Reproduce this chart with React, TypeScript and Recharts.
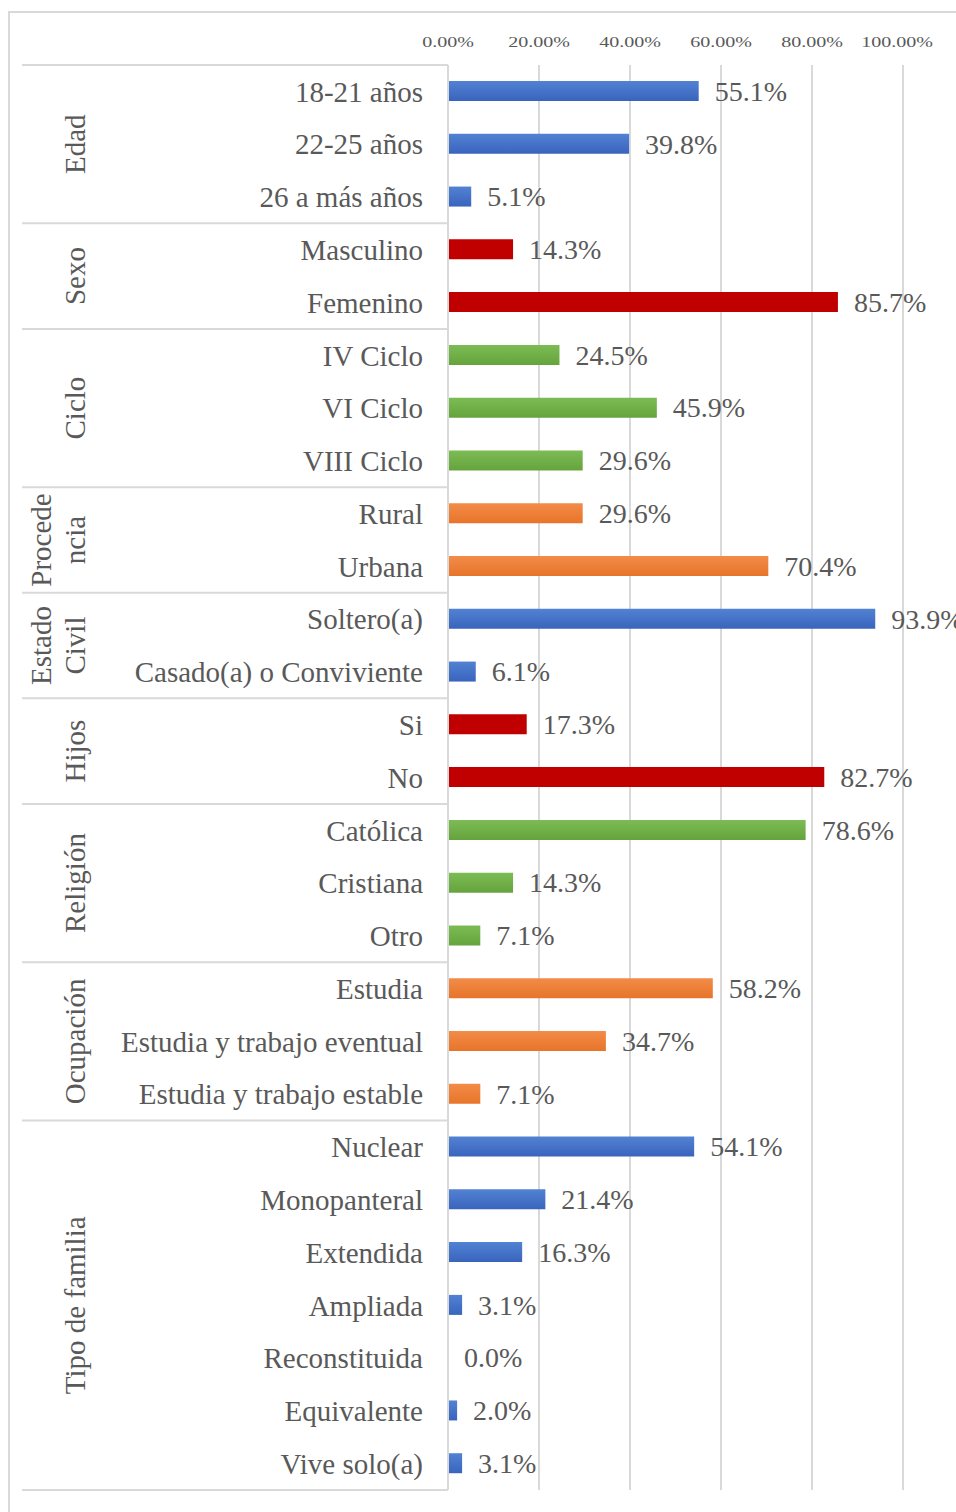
import { BarChart, Bar, XAxis, YAxis, CartesianGrid, Cell, LabelList, ReferenceArea } from "recharts"

const categories = [
  "18-21 años", "22-25 años", "26 a más años",
  "Masculino", "Femenino",
  "IV Ciclo", "VI Ciclo", "VIII Ciclo",
  "Rural", "Urbana",
  "Soltero(a)", "Casado(a) o Conviviente",
  "Si", "No",
  "Católica", "Cristiana", "Otro",
  "Estudia", "Estudia y trabajo eventual", "Estudia y trabajo estable",
  "Nuclear", "Monopanteral", "Extendida", "Ampliada", "Reconstituida", "Equivalente", "Vive solo(a)",
]

const values = [
  55.1, 39.8, 5.1,
  14.3, 85.7,
  24.5, 45.9, 29.6,
  29.6, 70.4,
  93.9, 6.1,
  17.3, 82.7,
  78.6, 14.3, 7.1,
  58.2, 34.7, 7.1,
  54.1, 21.4, 16.3, 3.1, 0.0, 2.0, 3.1,
]

const groupNames = [
  ["Edad"], ["Sexo"], ["Ciclo"], ["Procede", "ncia"], ["Estado", "Civil"],
  ["Hijos"], ["Religión"], ["Ocupación"], ["Tipo de familia"],
]
const groupSizes = [3, 2, 3, 2, 2, 2, 3, 3, 7]
const groupColors = ["blue", "red", "green", "orange", "blue", "red", "green", "orange", "blue"]

const xTicks = [0, 20, 40, 60, 80, 100]

const fills: Record<string, string> = {
  blue: "url(#gBlue)",
  red: "#C00000",
  green: "url(#gGreen)",
  orange: "url(#gOrange)",
}

const rowColors: string[] = []
groupSizes.forEach((n, g) => {
  for (let i = 0; i < n; i++) rowColors.push(groupColors[g])
})

const data = categories.map((name, i) => ({
  name,
  value: values[i],
  label: `${values[i].toFixed(1)}%`,
  color: rowColors[i],
}))

const groups = groupSizes.map((n, g) => {
  const start = groupSizes.slice(0, g).reduce((a, b) => a + b, 0)
  return { first: categories[start], last: categories[start + n - 1], lines: groupNames[g] }
})

const FONT = "'Liberation Serif', 'Times New Roman', serif"
const TEXT = "#595959"
const LINE = "#D9D9D9"

function GroupShape(props: any) {
  const { x, y, height, lines, isLast } = props
  const cy = y + height / 2
  const cols = lines.length === 1 ? [x - 373] : [x - 407, x - 373]
  return (
    <g>
      <line x1={x - 426} x2={x} y1={y} y2={y} stroke={LINE} strokeWidth={2} />
      {isLast && <line x1={x - 426} x2={x} y1={y + height} y2={y + height} stroke={LINE} strokeWidth={2} />}
      {lines.map((t: string, i: number) => (
        <text
          key={t}
          x={cols[i]}
          y={cy}
          transform={`rotate(-90, ${cols[i]}, ${cy})`}
          textAnchor="middle"
          dominantBaseline="central"
          fontFamily={FONT}
          fontSize={29}
          fill={TEXT}
        >
          {t}
        </text>
      ))}
    </g>
  )
}

function TopTick(props: any) {
  const { x, y, payload } = props
  const shift = payload.value === 100 ? -6 : 0
  return (
    <text
      transform={`translate(${x + shift},${y}) scale(1.38,1)`}
      textAnchor="middle"
      fontFamily={FONT}
      fontSize={14.5}
      fill={TEXT}
    >
      {`${payload.value.toFixed(2)}%`}
    </text>
  )
}

function ValueLabel(props: any) {
  const { x, y, width, height, value } = props
  return (
    <text
      x={x + width + 16}
      y={y + height / 2}
      dy="0.35em"
      textAnchor="start"
      fontFamily={FONT}
      fontSize={28}
      fill={TEXT}
    >
      {value}
    </text>
  )
}

export default function App() {
  return (
    <div style={{ position: "absolute", left: 0, top: 0, width: 956, height: 1512, overflow: "hidden", background: "#fff" }}>
      <div
        style={{
          position: "absolute",
          left: 8,
          top: 11,
          width: 1000,
          height: 1600,
          border: `2px solid ${LINE}`,
          boxSizing: "border-box",
        }}
      />
      <div style={{ position: "absolute", left: 0, top: 0 }}>
        <BarChart
          width={956}
          height={1512}
          data={data}
          layout="vertical"
          margin={{ top: 0, right: 53, bottom: 22, left: 0 }}
        >
          <defs>
            <linearGradient id="gBlue" x1="0" y1="0" x2="0" y2="1">
              <stop offset="0%" stopColor="#5282D3" />
              <stop offset="100%" stopColor="#3964BD" />
            </linearGradient>
            <linearGradient id="gGreen" x1="0" y1="0" x2="0" y2="1">
              <stop offset="0%" stopColor="#7DBB55" />
              <stop offset="100%" stopColor="#65A33D" />
            </linearGradient>
            <linearGradient id="gOrange" x1="0" y1="0" x2="0" y2="1">
              <stop offset="0%" stopColor="#F28C48" />
              <stop offset="100%" stopColor="#E8742A" />
            </linearGradient>
          </defs>
          <CartesianGrid horizontal={false} vertical stroke={LINE} strokeWidth={2} />
          <XAxis
            type="number"
            orientation="top"
            domain={[0, 100]}
            ticks={xTicks}
            height={65}
            axisLine={false}
            tickLine={false}
            tickSize={0}
            tickMargin={18}
            tick={<TopTick />}
            interval={0}
          />
          <YAxis
            type="category"
            dataKey="name"
            width={448}
            axisLine={{ stroke: LINE, strokeWidth: 2 }}
            tickLine={false}
            tickSize={0}
            tickMargin={25}
            interval={0}
            tick={{ fontFamily: FONT, fontSize: 29, fill: TEXT }}
          />
          {groups.map((g, i) => (
            <ReferenceArea
              key={g.first}
              y1={g.first}
              y2={g.last}
              ifOverflow="visible"
              shape={(p: any) => <GroupShape {...p} lines={g.lines} isLast={i === groups.length - 1} />}
            />
          ))}
          <Bar dataKey="value" barSize={20} minPointSize={0.01} isAnimationActive={false}>
            {data.map((d) => (
              <Cell key={d.name} fill={fills[d.color]} />
            ))}
            <LabelList dataKey="label" content={<ValueLabel />} />
          </Bar>
        </BarChart>
      </div>
    </div>
  )
}
